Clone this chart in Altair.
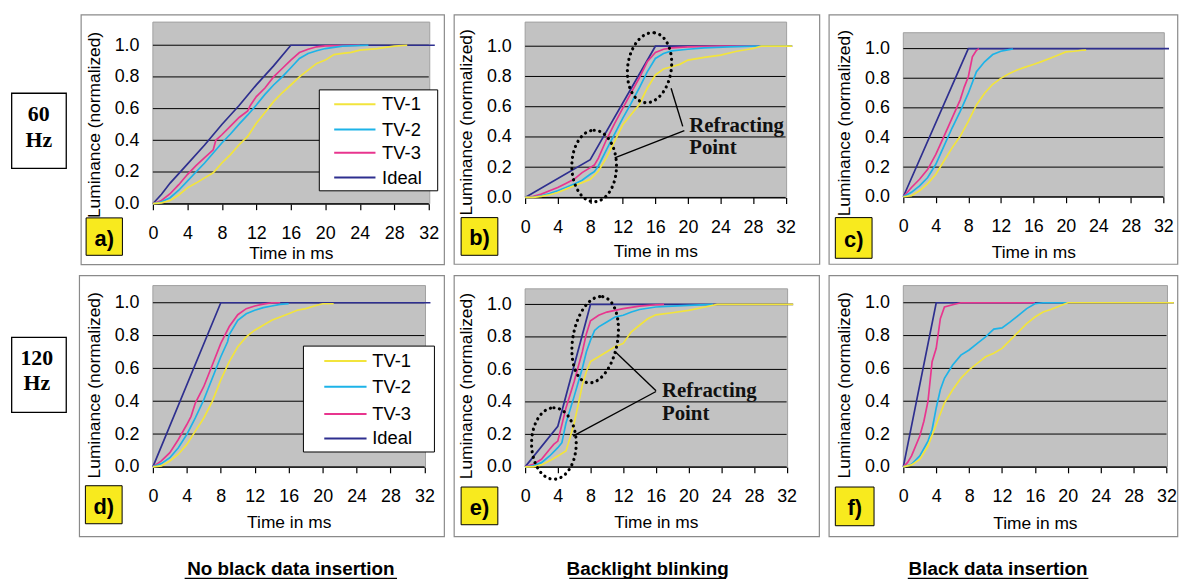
import altair as alt
import pandas as pd

# ---------------- data ----------------
SERIES = ["TV-1", "TV-2", "TV-3", "Ideal"]
SERIES_COLORS = ["#f2e43c", "#1db3e8", "#e8358e", "#2e2f8f"]
DRAW_ORDER = ["Ideal", "TV-3", "TV-2", "TV-1"]

X_TICKS = [0, 4, 8, 12, 16, 20, 24, 28, 32]
Y_TICKS = [0.0, 0.2, 0.4, 0.6, 0.8, 1.0]
X_TITLE = "Time in ms"
Y_TITLE = "Luminance (normalized)"
PANEL_LETTERS = ["a)", "b)", "c)", "d)", "e)", "f)"]
ROW_LABELS = [["60", "Hz"], ["120", "Hz"]]
COLUMN_LABELS = ["No black data insertion", "Backlight blinking", "Black data insertion"]
ANNOTATION_LINES = ["Refracting", "Point"]

# panel a) 60 Hz, no black data insertion
a_ideal_t = [0, 1, 2, 3, 4, 6, 8, 10, 12, 14, 16, 32.7]
a_ideal_y = [0, 0.06, 0.13, 0.19, 0.25, 0.37, 0.5, 0.62, 0.75, 0.87, 1.0, 1.0]
a_tv3_t = [0, 1, 2, 3, 4, 5, 6, 7, 7.3, 8, 9, 10, 11, 11.3, 12, 13, 14, 15, 16, 17, 18, 19, 20, 22, 24]
a_tv3_y = [0, 0.02, 0.063, 0.12, 0.184, 0.24, 0.29, 0.34, 0.40, 0.435, 0.49, 0.544, 0.586, 0.62, 0.676,
           0.73, 0.80, 0.853, 0.906, 0.954, 0.975, 0.99, 0.996, 0.998, 1.0]
a_tv2_t = [0, 1, 2, 3, 4, 5, 6, 7, 8, 9, 10, 11, 12, 13, 14, 15, 16, 17, 18, 19, 20, 22, 25]
a_tv2_y = [0, 0.012, 0.038, 0.085, 0.142, 0.2, 0.257, 0.32, 0.383, 0.44, 0.502, 0.56, 0.623, 0.69,
           0.749, 0.80, 0.858, 0.916, 0.948, 0.965, 0.979, 0.994, 1.0]
a_tv1_t = [0, 1, 2, 3, 4, 5, 6, 7, 8, 9, 10, 11, 12, 13, 14, 15, 16, 17, 18, 19, 20, 21, 22, 23, 24,
           26, 28, 29.5]
a_tv1_y = [0, 0.005, 0.02, 0.055, 0.10, 0.13, 0.163, 0.195, 0.257, 0.31, 0.372, 0.425, 0.508, 0.575,
           0.644, 0.70, 0.749, 0.80, 0.843, 0.885, 0.906, 0.941, 0.948, 0.955, 0.969, 0.979, 0.994, 1.0]

# panel b) 60 Hz, backlight blinking
b_ideal_t = [0, 8, 16, 32.8]
b_ideal_y = [0, 0.25, 1.0, 1.0]
b_tv3_t = [0, 1, 2, 3, 4, 5, 6, 7, 8, 8.5, 9, 10, 11, 12, 13, 14, 15, 16, 17, 18, 20, 24, 32.8]
b_tv3_y = [0, 0.008, 0.022, 0.044, 0.066, 0.093, 0.12, 0.164, 0.197, 0.214, 0.26, 0.383, 0.49, 0.59,
           0.69, 0.788, 0.897, 0.958, 0.98, 0.989, 0.996, 1.0, 1.0]
b_tv2_t = [0, 1, 2, 3, 4, 5, 6, 7, 8, 8.5, 9, 10, 11, 12, 13, 14, 15, 16, 17, 18, 20, 22, 25, 28, 32.8]
b_tv2_y = [0, 0.003, 0.01, 0.025, 0.044, 0.066, 0.088, 0.114, 0.153, 0.17, 0.208, 0.317, 0.42, 0.525,
           0.62, 0.722, 0.83, 0.919, 0.952, 0.969, 0.98, 0.989, 0.996, 1.0, 1.0]
b_tv1_t = [0, 1, 2, 3, 4, 5, 6, 7, 8, 9, 10, 11, 12, 13, 14, 15, 16, 17, 18, 19, 20, 22, 24, 26, 28,
           29, 32.8]
b_tv1_y = [0, 0, 0.007, 0.018, 0.033, 0.055, 0.077, 0.098, 0.12, 0.175, 0.263, 0.37, 0.481, 0.547,
           0.613, 0.722, 0.81, 0.849, 0.864, 0.88, 0.908, 0.926, 0.941, 0.967, 0.985, 1.0, 1.0]

# panel c) 60 Hz, black data insertion
c_ideal_t = [0, 8, 32.7]
c_ideal_y = [0, 1.0, 1.0]
c_tv3_t = [0, 0.5, 1, 2, 3, 4, 5, 6, 7, 7.5, 8, 8.5, 9, 9.3]
c_tv3_y = [0, 0.03, 0.0625, 0.118, 0.185, 0.286, 0.408, 0.531, 0.654, 0.74, 0.81, 0.944, 0.989, 1.0]
c_tv2_t = [0, 1, 2, 3, 4, 5, 6, 7, 8, 9, 10, 11, 12, 13, 13.5]
c_tv2_y = [0, 0.03, 0.074, 0.13, 0.219, 0.342, 0.464, 0.576, 0.699, 0.844, 0.911, 0.96, 0.982, 0.993,
           0.997]
c_tv1_t = [0, 1, 2, 3, 4, 5, 6, 7, 8, 9, 10, 11, 12, 13, 14, 15, 16, 17, 18, 19, 20, 21, 22, 22.5]
c_tv1_y = [0, 0.007, 0.04, 0.089, 0.152, 0.241, 0.33, 0.408, 0.509, 0.62, 0.699, 0.759, 0.799, 0.83,
           0.855, 0.875, 0.893, 0.912, 0.933, 0.955, 0.978, 0.982, 0.989, 0.99]

# panel d) 120 Hz, no black data insertion
d_ideal_t = [0, 8, 32.7]
d_ideal_y = [0, 1.0, 1.0]
d_tv3_t = [0, 1, 2, 3, 4, 4.5, 5, 6, 7, 8, 9, 10, 11, 12, 13, 14, 15]
d_tv3_y = [0, 0.036, 0.087, 0.167, 0.258, 0.308, 0.389, 0.49, 0.621, 0.752, 0.855, 0.927, 0.964, 0.98,
           0.992, 1.0, 1.0]
d_tv2_t = [0, 1, 2, 3, 4, 5, 6, 7, 8, 8.8, 9, 10, 11, 12, 13, 14, 15, 16]
d_tv2_y = [0, 0.02, 0.056, 0.117, 0.198, 0.298, 0.409, 0.54, 0.671, 0.762, 0.806, 0.893, 0.933, 0.954,
           0.97, 0.98, 0.99, 0.994]
d_tv1_t = [0, 1, 2, 3, 4, 5, 6, 7, 8, 9, 10, 11, 12, 13, 14, 15, 16, 17, 18, 19, 20, 21.3]
d_tv1_y = [0, 0.006, 0.036, 0.077, 0.137, 0.218, 0.298, 0.399, 0.53, 0.641, 0.732, 0.792, 0.833, 0.863,
           0.893, 0.913, 0.933, 0.954, 0.964, 0.98, 0.994, 0.994]

# panel e) 120 Hz, backlight blinking
e_ideal_t = [0, 4, 8, 32.8]
e_ideal_y = [0, 0.25, 1.0, 1.0]
e_tv3_t = [0, 1, 2, 3, 3.5, 4, 4.5, 5, 6, 7, 7.5, 8, 9, 10, 12, 14, 16, 17]
e_tv3_y = [0, 0.016, 0.047, 0.108, 0.138, 0.159, 0.26, 0.363, 0.525, 0.709, 0.82, 0.9, 0.933, 0.953,
           0.974, 0.99, 0.998, 1.0]
e_tv2_t = [0, 1, 2, 3, 4, 4.5, 5, 6, 7, 7.5, 8, 8.5, 9, 10, 11, 12, 13, 14, 16, 18, 20, 23]
e_tv2_y = [0, 0.006, 0.026, 0.067, 0.118, 0.149, 0.27, 0.434, 0.607, 0.709, 0.78, 0.84, 0.862, 0.892,
           0.923, 0.933, 0.953, 0.969, 0.984, 0.99, 0.994, 1.0]
e_tv1_t = [0, 1, 2, 3, 4, 5, 5.5, 6, 6.5, 7, 7.5, 8, 9, 10, 11, 12, 13, 14, 15, 16, 18, 20, 22, 23.5,
           32.8]
e_tv1_y = [0, 0, 0.012, 0.037, 0.067, 0.098, 0.18, 0.27, 0.383, 0.505, 0.587, 0.648, 0.678, 0.709,
           0.739, 0.76, 0.831, 0.872, 0.912, 0.936, 0.949, 0.963, 0.984, 1.0, 1.0]

# panel f) 120 Hz, black data insertion
f_ideal_t = [0, 4, 32.9]
f_ideal_y = [0, 1.0, 1.0]
f_tv3_t = [0, 0.5, 1, 2, 2.5, 3, 3.5, 4, 4.5, 5, 6, 7, 16]
f_tv3_y = [0, 0.026, 0.067, 0.188, 0.278, 0.4, 0.641, 0.722, 0.903, 0.974, 0.988, 1.0, 1.0]
f_tv2_t = [0, 1, 2, 3, 3.5, 4, 4.5, 5, 6, 7, 8, 9, 10, 11, 12, 13, 14, 15, 16, 17, 20]
f_tv2_y = [0, 0.016, 0.067, 0.157, 0.228, 0.359, 0.47, 0.54, 0.621, 0.681, 0.712, 0.752, 0.792, 0.839,
           0.847, 0.883, 0.923, 0.964, 0.994, 1.0, 1.0]
f_tv1_t = [0, 1, 2, 3, 4, 5, 6, 7, 8, 9, 10, 11, 12, 13, 14, 15, 16, 17, 18, 19, 20, 32.9]
f_tv1_y = [0, 0.012, 0.046, 0.127, 0.258, 0.389, 0.47, 0.54, 0.591, 0.631, 0.671, 0.692, 0.722, 0.772,
           0.823, 0.873, 0.913, 0.944, 0.96, 0.98, 1.0, 1.0]

# "Refracting Point" annotations (data coordinates): ellipse centres, pointer ends, text anchor
b_ellipse_t = [8.48, 15.28]
b_ellipse_y = [0.208, 0.858]
b_pointer = [(19.36, 0.470, 17.93, 0.722), (19.56, 0.442, 11.0, 0.262)]
b_text_at = (20.15, 0.433, 0.289)
e_ellipse_t = [3.52, 8.57]
e_ellipse_y = [0.144, 0.783]
e_pointer = [(16.02, 0.468, 11.09, 0.705), (16.02, 0.464, 5.85, 0.189)]
e_text_at = (16.74, 0.428, 0.287)

# ---------------- styling ----------------
FONT = "Liberation Sans"
SERIF = "Liberation Serif"
BOX_GREY = "#8a8a8a"
PLOT_GREY = "#c2c2c2"
LABEL_YELLOW = "#f8ea1e"
color_scale = alt.Scale(domain=SERIES, range=SERIES_COLORS)


def one():
    return alt.Data(values=[{}])


def deco_rect(x1, x2, y1, y2, **kw):
    return alt.Chart(one()).mark_rect(**kw).encode(
        x=alt.value(x1), x2=alt.value(x2), y=alt.value(y1), y2=alt.value(y2))


def deco_text(x, y, text, **kw):
    return alt.Chart(one()).mark_text(**kw).encode(
        x=alt.value(x), y=alt.value(y), text=alt.value(text))


def deco_hrule(x1, x2, y, **kw):
    return alt.Chart(one()).mark_rule(**kw).encode(
        x=alt.value(x1), x2=alt.value(x2), y=alt.value(y))


def ellipse_path(rx):
    k = 0.5523
    return (f"M0,-1C{k*rx:.4f},-1 {rx:.4f},{-k:.4f} {rx:.4f},0"
            f"C{rx:.4f},{k:.4f} {k*rx:.4f},1 0,1"
            f"C{-k*rx:.4f},1 {-rx:.4f},{k:.4f} {-rx:.4f},0"
            f"C{-rx:.4f},{-k:.4f} {-k*rx:.4f},-1 0,-1Z")


def make_panel(curves, W, H, y1px, gray_top, box, lab, letter, title_pad,
               legend=None, row_label=None, col_label=None, annot=None):
    rows = []
    for s in SERIES:
        ts, ys = curves[s]
        for i, (tt, yy) in enumerate(zip(ts, ys)):
            rows.append({"series": s, "t": tt, "lum": yy, "idx": i})
    df = pd.DataFrame(rows)
    xs = alt.Scale(domain=[0, 32], nice=False, zero=True)
    ysc = alt.Scale(domain=[0, 1], range=[H, y1px], nice=False, zero=True)
    xaxis = alt.Axis(values=X_TICKS, title=X_TITLE, titlePadding=title_pad)
    yaxis = alt.Axis(values=Y_TICKS, format=".1f", title=Y_TITLE)

    def X(f):
        return alt.X(f, scale=xs, axis=xaxis)

    def Y(f):
        return alt.Y(f, scale=ysc, axis=yaxis)

    layers = []
    # panel frame and plot background
    layers.append(deco_rect(*box, fill="white", fillOpacity=0, stroke=BOX_GREY, strokeWidth=1.2))
    layers.append(deco_rect(0, W + 1, gray_top, H, fill=PLOT_GREY, stroke="#a0a0a0", strokeWidth=1))
    # horizontal grid lines through the y scale
    gdf = pd.DataFrame({"lum": Y_TICKS})
    layers.append(alt.Chart(gdf).mark_rule(color="black", strokeWidth=1).encode(y=Y("lum:Q")))
    # curves
    for s in DRAW_ORDER:
        layers.append(
            alt.Chart(df).transform_filter(alt.datum.series == s)
            .mark_line(strokeWidth=1.7)
            .encode(x=X("t:Q"), y=Y("lum:Q"),
                    color=alt.Color("series:N", scale=color_scale, legend=None),
                    order="idx:Q"))
    # panel letter box
    layers.append(deco_rect(*lab, fill=LABEL_YELLOW, stroke="black", strokeWidth=1))
    layers.append(deco_text((lab[0] + lab[1]) / 2, (lab[2] + lab[3]) / 2 + 2, letter,
                            font=FONT, fontSize=22, fontWeight="bold", color="black",
                            align="center", baseline="middle"))
    # legend box
    if legend is not None:
        bx, sx, tx, ry = legend
        layers.append(deco_rect(*bx, fill="white", stroke="black", strokeWidth=1))
        for s, c, yy in zip(SERIES, SERIES_COLORS, ry):
            layers.append(deco_hrule(sx[0], sx[1], yy, color=c, strokeWidth=2))
            layers.append(deco_text(tx, yy, s, font=FONT, fontSize=18.5, color="black",
                                    align="left", baseline="middle"))
    # row label (60 Hz / 120 Hz)
    if row_label is not None:
        rb, cx, bl, texts = row_label
        layers.append(deco_rect(*rb, fill="white", stroke="black", strokeWidth=1.3))
        for tline, yb in zip(texts, bl):
            layers.append(deco_text(cx, yb, tline, font=SERIF, fontSize=22, fontWeight="bold",
                                    color="black", align="center", baseline="alphabetic"))
    # column label under the row
    if col_label is not None:
        cx, bl, ux1, ux2, text = col_label
        layers.append(deco_text(cx, bl, text, font=FONT, fontSize=19, fontWeight="bold",
                                color="black", align="center", baseline="alphabetic"))
        layers.append(deco_hrule(ux1, ux2, bl + 3, color="black", strokeWidth=1.4))
    # Refracting point annotation
    if annot is not None:
        et, ey, shapes, pointers, text_at = annot
        for tt, yy, (wpx, hpx, ang) in zip(et, ey, shapes):
            edf = pd.DataFrame({"t": [tt], "lum": [yy]})
            layers.append(
                alt.Chart(edf).mark_point(shape=ellipse_path(wpx / hpx), size=hpx * hpx, filled=False,
                                          stroke="black", strokeWidth=3.2, strokeDash=[0.1, 5.6],
                                          strokeCap="round", opacity=1, angle=ang)
                .encode(x=X("t:Q"), y=Y("lum:Q")))
        pdf = pd.DataFrame(pointers, columns=["t", "lum", "t2", "lum2"])
        layers.append(
            alt.Chart(pdf).mark_rule(color="black", strokeWidth=1.4)
            .encode(x=X("t:Q"), y=Y("lum:Q"), x2="t2:Q", y2="lum2:Q"))
        tdf = pd.DataFrame({"t": [text_at[0], text_at[0]], "lum": [text_at[1], text_at[2]],
                            "label": ANNOTATION_LINES})
        layers.append(
            alt.Chart(tdf).mark_text(font=SERIF, fontSize=21, fontWeight="bold", color="#111",
                                     align="left", baseline="alphabetic")
            .encode(x=X("t:Q"), y=Y("lum:Q"), text="label:N"))

    return alt.layer(*layers).properties(width=W, height=H)


def curves_of(i_t, i_y, t3_t, t3_y, t2_t, t2_y, t1_t, t1_y):
    return {"Ideal": (i_t, i_y), "TV-3": (t3_t, t3_y), "TV-2": (t2_t, t2_y), "TV-1": (t1_t, t1_y)}


pa = make_panel(curves_of(a_ideal_t, a_ideal_y, a_tv3_t, a_tv3_y, a_tv2_t, a_tv2_y, a_tv1_t, a_tv1_y),
                278, 183, 23.3, 0, (-72.3, 293.7, -7.3, 244.3), (-67.3, -30.7, 197.3, 235),
                PANEL_LETTERS[0], 2,
                legend=((167.7, 287, 68.3, 170), (182.7, 224.3), 231, [82.7, 108.3, 131.7, 156.7]),
                row_label=((-142.3, -87.3, 71.7, 147.3), -115, [100, 125.5], ROW_LABELS[0]))
pb = make_panel(curves_of(b_ideal_t, b_ideal_y, b_tv3_t, b_tv3_y, b_tv2_t, b_tv2_y, b_tv1_t, b_tv1_y),
                262.5, 176.7, 24.3, 0, (-71.5, 296.8, -7.3, 244), (-64.5, -27.5, 197, 235),
                PANEL_LETTERS[1], 7,
                annot=(b_ellipse_t, b_ellipse_y, [(45, 72, 0), (44, 71, 8)], b_pointer, b_text_at))
pc = make_panel(curves_of(c_ideal_t, c_ideal_y, c_tv3_t, c_tv3_y, c_tv2_t, c_tv2_y, c_tv1_t, c_tv1_y),
                262, 176, 26.7, 10.7, (-74.8, 276.5, -7.3, 244), (-68.5, -31.5, 197, 238),
                PANEL_LETTERS[2], 8)
pd_ = make_panel(curves_of(d_ideal_t, d_ideal_y, d_tv3_t, d_tv3_y, d_tv2_t, d_tv2_y, d_tv1_t, d_tv1_y),
                 273.7, 182.7, 17.3, 0, (-74, 293.7, -10, 253), (-68, -31, 201.7, 240),
                 PANEL_LETTERS[3], 8,
                 legend=((151.7, 283.7, 61, 167.7), (172.7, 215.3), 221, [76, 102, 129.3, 154]),
                 row_label=((-142.3, -87.3, 52.3, 127.7), -117, [80, 105], ROW_LABELS[1]),
                 col_label=(139, 292, 32, 246, COLUMN_LABELS[0]))
pe = make_panel(curves_of(e_ideal_t, e_ideal_y, e_tv3_t, e_tv3_y, e_tv2_t, e_tv2_y, e_tv1_t, e_tv1_y),
                263.5, 182.7, 19, 3.3, (-71.5, 296.5, -10, 253), (-64.5, -27.5, 203, 241),
                PANEL_LETTERS[4], 8,
                col_label=(123.5, 292, 44.5, 202.5, COLUMN_LABELS[1]),
                annot=(e_ellipse_t, e_ellipse_y, [(45, 72, 0), (45, 88, 10)], e_pointer, e_text_at))
pf = make_panel(curves_of(f_ideal_t, f_ideal_y, f_tv3_t, f_tv3_y, f_tv2_t, f_tv2_y, f_tv1_t, f_tv1_y),
                265.2, 182.7, 17.3, 0, (-74.8, 276.5, -10, 253), (-68.5, -29.5, 203, 242),
                PANEL_LETTERS[5], 9,
                col_label=(95.5, 292, 4.5, 186.5, COLUMN_LABELS[2]))

chart = alt.concat(pa, pb, pc, pd_, pe, pf, columns=3, align="each", bounds="full",
                   spacing={"row": 9.5, "column": 7.1}).properties(
    padding={"left": 3, "top": 4, "right": 0, "bottom": 0},
    background="white",
).configure_view(
    fillOpacity=0, strokeOpacity=0, strokeWidth=0
).configure_axis(
    labelFont=FONT, labelFontSize=18, labelColor="black", labelFlush=False, labelOverlap=False,
    titleFont=FONT, titleFontSize=17.5, titleFontWeight="normal", titleColor="black", grid=False,
).configure_axisX(
    domainColor="black", domainWidth=1.2, tickColor="black", tickSize=6,
    tickWidth=1.2, labelPadding=15
).configure_axisY(
    domain=False, ticks=False, labelPadding=14, titlePadding=11
)

chart.save("out.html", embed_options={"renderer": "svg", "actions": False})
